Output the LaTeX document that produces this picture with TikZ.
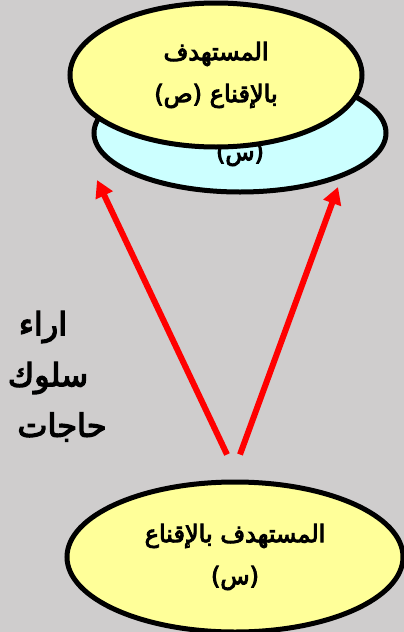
\documentclass[tikz,border=0pt]{standalone}
\usepackage{fontspec}
\newfontfamily\arabicfont[Script=Arabic,FakeBold=4]{DejaVu Sans}
\TeXXeTstate=1
\usetikzlibrary{positioning, arrows.meta, shapes.geometric, calc}
\definecolor{bggray}{RGB}{207,205,205}
\definecolor{lightyellow}{RGB}{255,255,153}
\definecolor{lightcyan}{RGB}{204,255,255}
\tikzset{
  target/.style={draw, ellipse, line width=5pt, inner sep=0pt, align=center,
    font=\arabicfont\fontsize{24}{42}\selectfont},
  redarrow/.style={draw=red, line width=6pt, -{Triangle[length=17pt,width=18pt]}},
  sidelabel/.style={font=\arabicfont\fontsize{32}{50}\selectfont, inner sep=0pt}
}
\begin{document}
\begin{tikzpicture}[x=1pt, y=-1pt]
    \fill[bggray] (0,0) rectangle (404,632);
    \useasboundingbox (0,0) rectangle (404,632);
    % upper pair of ellipses
    \node [target, fill=lightcyan, minimum width=292pt, minimum height=118pt] (cyn) at (240,133) {};
    \node [font=\arabicfont\fontsize{24}{42}\selectfont, inner sep=0pt] (cyntext) at (240,154) {\beginR(س)\endR};
    \node [target, fill=lightyellow, minimum width=292pt, minimum height=144pt] (top) at (216,75)
        {\beginR المستهدف\endR\\\beginR بالإقناع (ص)\endR};
    % lower ellipse
    \node [target, fill=lightyellow, minimum width=336pt, minimum height=150pt] (bot) at (235,557)
        {\beginR المستهدف بالإقناع\endR\\\beginR(س)\endR};
    % arrows
    \coordinate (startl) at ($(bot.north)+(-8,-25)$);
    \coordinate (startr) at ($(bot.north)+(5,-25)$);
    \coordinate (endl) at ($(cyn.center)+(-143,47)$);
    \coordinate (endr) at ($(cyn.center)+(98,54)$);
    \draw [redarrow] (startl) -- (endl);
    \draw [redarrow] (startr) -- (endr);
    % words on the left
    \node [sidelabel] (w1) at (43,327) {\beginR اراء\endR};
    \node [sidelabel] (w2) at (48,378) {\beginR سلوك\endR};
    \node [sidelabel] (w3) at (62,427) {\beginR حاجات\endR};
\end{tikzpicture}
\end{document}
